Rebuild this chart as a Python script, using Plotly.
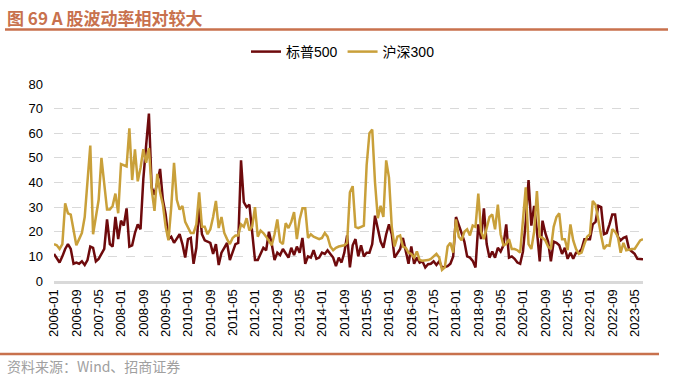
import plotly.graph_objects as go

months = [f"{y}-{m:02d}" for y in range(2006, 2024) for m in range(1, 13)][:212]

spx = [11, 9, 7.5, 10, 13, 15, 13, 7, 7.5, 7, 8, 6.5, 8.5, 14, 13.5, 8, 9, 11, 13, 25,
       15, 14, 26, 17, 24.5, 22.5, 29.5, 14, 14.5, 19.5, 23, 21, 41.5, 55, 68, 38, 35, 40, 45.5, 33,
       27, 17, 18, 15.5, 17, 19, 15, 9.5, 17, 17.5, 7, 13.5, 30, 19, 16.5, 16, 15.5, 11, 15, 6.5,
       11.5, 13.5, 15.5, 8.5, 11.5, 15, 15.5, 49, 32, 30, 31, 20, 8.5, 8.5, 11, 13.5, 12.5, 20, 15, 8.5,
       11.5, 10.5, 13, 11, 9.5, 13.5, 10.5, 14, 11.5, 17.5, 7, 10, 9.5, 12.5, 9, 9.5, 11.5, 11, 12.5, 11,
       9.5, 6, 9.5, 7.5, 11.5, 18.5, 5.5, 14.5, 17, 10, 14.5, 10, 11.5, 11.5, 15, 26.5, 21.5, 16, 13.5, 19,
       23, 19, 9.5, 11, 13, 17.5, 11.5, 7, 14, 7, 9.5, 7.5, 8, 5.5, 6.8, 7, 8, 6.5, 8, 5.5,
       5.7, 6, 7, 10, 26, 23, 19.5, 16, 10, 9.5, 8.2, 5.5, 23, 17, 29.5, 15, 9.5, 12, 9.5, 13.5,
       12, 14.5, 23, 9.5, 10, 9, 7.5, 7, 12, 24, 41, 22.5, 30.5, 20.5, 8, 24.5, 19.5, 16, 8, 16,
       15.5, 14.5, 11, 13.5, 9, 11.5, 9, 11.5, 11.5, 13, 17, 17, 17, 23, 24, 30.5, 30, 19, 19.5, 23,
       27, 27, 18, 16.5, 17.5, 18, 13, 12, 11, 9, 8.8, 8.8]

hs300 = [15, 14.5, 13, 15, 31.5, 27.5, 27, 20, 14.5, 17, 19.5, 26, 40, 55, 19, 27, 33, 50, 38, 29,
         29, 30.5, 35.5, 27.5, 47.5, 47, 46.5, 62, 41, 53.5, 40.5, 46, 53.5, 48, 54, 37, 28.5, 43.5, 36, 31,
         22, 16.5, 30, 48, 33, 29, 30.5, 24, 22, 19.5, 19.5, 23, 36, 22, 22, 19, 21, 26, 32.5, 21.5,
         26, 19.5, 17, 15, 17.5, 18.5, 18.5, 23, 22, 25.5, 20.5, 22, 30, 18, 20.5, 19.5, 18, 16.5, 14.5, 19,
         25, 16, 15, 23.5, 21.5, 24, 28, 17, 25, 29.5, 29.5, 17.5, 19, 18, 17.5, 17, 17.5, 19.5, 18, 14,
         12.5, 13.5, 14, 14.3, 14.5, 15.5, 36, 38.5, 22, 21.5, 22, 22.5, 47, 60, 61.5, 40, 25.5, 30.5, 26, 49,
         42, 22, 14, 18, 18.5, 14, 13.5, 11.5, 11, 9.5, 12, 8.5, 8.2, 8.3, 8.5, 9, 10.2, 11, 9.5, 4.5,
         5.5, 14, 15.5, 11.5, 25, 18, 16.5, 20, 21, 18.5, 22.5, 22, 35.5, 20, 17, 21, 26, 27, 21, 31,
         19, 14.5, 15, 17, 13, 13, 12.5, 11.5, 25, 38, 15, 13, 20, 36.5, 18, 17.5, 16.5, 14, 13, 22,
         26, 27.5, 17, 17, 12.5, 23, 16.5, 13, 11, 11.5, 15, 18, 19, 32.5, 31, 24, 18.5, 13, 14.5, 14.3,
         21, 20, 18, 11.5, 15.5, 12.5, 12.8, 13, 13, 15, 16.5, 17]

tick_labels = months[::8]

ACC = "#C8714D"

PL, PR, PT, PB = 54, 643, 84, 281
PW, PH = PR - PL, PB - PT


def px(x):
    return (x - PL) / PW


def py(y):
    return (PB - y) / PH


fig = go.Figure()
fig.add_trace(go.Scatter(x=months, y=spx, name="标普500", mode="lines",
                         line=dict(color="#6E0A0C", width=2.5)))
fig.add_trace(go.Scatter(x=months, y=hs300, name="沪深300", mode="lines",
                         line=dict(color="#C9A03A", width=2.5)))

fig.update_layout(
    width=673, height=385,
    margin=dict(l=PL, r=673 - PR, t=PT, b=385 - PB, pad=0),
    paper_bgcolor="white", plot_bgcolor="white",
    font=dict(family="Liberation Sans, Arial, Noto Sans CJK SC", size=13, color="black"),
    legend=dict(orientation="h", x=px(343), xanchor="center", y=py(52), yanchor="middle",
                font=dict(size=14, family="Liberation Sans, Noto Sans CJK SC"),
                itemwidth=30, tracegroupgap=0),
    showlegend=True,
    xaxis=dict(type="category", range=[0, len(months) - 1],
               tickmode="array", tickvals=tick_labels, ticktext=tick_labels,
               tickangle=-90, showgrid=False, showline=True, linecolor="#D9D9D9", linewidth=3,
               ticks="", tickfont=dict(size=13), zeroline=False),
    yaxis=dict(range=[0, 80], dtick=10, showgrid=True, gridcolor="#D9D9D9",
               griddash="dash", gridwidth=1, zeroline=False, showline=False, ticks="",
               tickfont=dict(size=13), ticklabelstandoff=10),
)

fig.add_annotation(text="<b>图 69 A 股波动率相对较大</b>", xref="paper", yref="paper",
                   x=px(5), y=py(17.5), xanchor="left", yanchor="middle",
                   showarrow=False, font=dict(size=17, color=ACC, family="Noto Sans CJK SC"))
fig.add_annotation(text="资料来源：Wind、招商证券", xref="paper", yref="paper",
                   x=px(5), y=py(366), xanchor="left", yanchor="middle",
                   showarrow=False, font=dict(size=14, color="#A0A0A0", family="Noto Sans CJK SC"))

fig.add_shape(type="line", xref="paper", yref="paper", x0=px(5), x1=px(668),
              y0=py(29.5), y1=py(29.5), line=dict(color=ACC, width=2.5))
fig.add_shape(type="line", xref="paper", yref="paper", x0=px(0), x1=px(659),
              y0=py(354), y1=py(354), line=dict(color=ACC, width=2.5))

fig.write_html("out.html", config={"displayModeBar": False},
               post_script="document.body.style.margin='0px';")
